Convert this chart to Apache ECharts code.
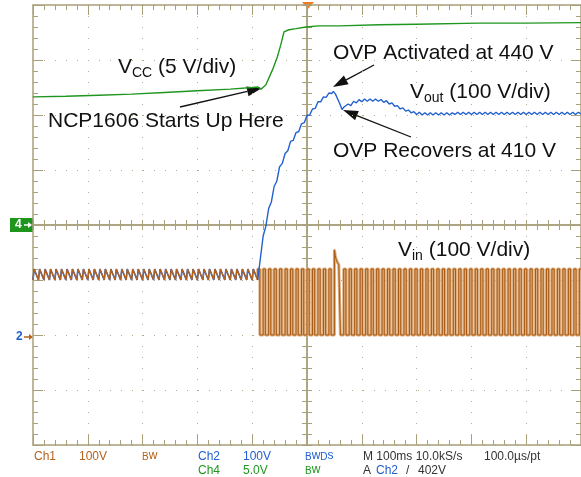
<!DOCTYPE html>
<html>
<head>
<meta charset="utf-8">
<script src="https://cdn.jsdelivr.net/npm/echarts@6.0.0/dist/echarts.min.js"></script>
<style>
  html, body { margin: 0; padding: 0; background: #fff; }
  #chart { width: 581px; height: 477px; }
</style>
</head>
<body>
<div id="chart"></div>
<script>
// x: time in ms (100 ms/div, trigger at centre), y: screen divisions from centre
const timeRange = [-500, 500];
const divRange = [-4, 4];

// Ch1 Vin before start-up (small sawtooth)
const vinBefore = [
  [-500,-1],[-498,-0.8],[-490,-1],[-488,-0.8],[-480,-1],[-478,-0.8],[-470,-1],[-468,-0.8],
  [-460,-1],[-458,-0.8],[-450,-1],[-448,-0.8],[-440,-1],[-438,-0.8],[-430,-1],[-428,-0.8],
  [-420,-1],[-418,-0.8],[-410,-1],[-408,-0.8],[-400,-1],[-398,-0.8],[-390,-1],[-388,-0.8],
  [-380,-1],[-378,-0.8],[-370,-1],[-368,-0.8],[-360,-1],[-358,-0.8],[-350,-1],[-348,-0.8],
  [-340,-1],[-338,-0.8],[-330,-1],[-328,-0.8],[-320,-1],[-318,-0.8],[-310,-1],[-308,-0.8],
  [-300,-1],[-298,-0.8],[-290,-1],[-288,-0.8],[-280,-1],[-278,-0.8],[-270,-1],[-268,-0.8],
  [-260,-1],[-258,-0.8],[-250,-1],[-248,-0.8],[-240,-1],[-238,-0.8],[-230,-1],[-228,-0.8],
  [-220,-1],[-218,-0.8],[-210,-1],[-208,-0.8],[-200,-1],[-198,-0.8],[-190,-1],[-188,-0.8],
  [-180,-1],[-178,-0.8],[-170,-1],[-168,-0.8],[-160,-1],[-158,-0.8],[-150,-1],[-148,-0.8],
  [-140,-1],[-138,-0.8],[-130,-1],[-128,-0.8],[-120,-1],[-118,-0.8],[-110,-1],[-108,-0.8],
  [-100,-1],[-98,-0.8],[-90,-1]
];

// Ch1 Vin after start-up (stepped, full swing)
const vinAfter = [
  [-90,-1],[-90,-0.8],[-86,-2],[-80,-0.8],[-76,-2],[-70,-0.8],[-66,-2],[-60,-0.8],
  [-56,-2],[-50,-0.8],[-46,-2],[-40,-0.8],[-36,-2],[-30,-0.8],[-26,-2],[-20,-0.8],
  [-16,-2],[-10,-0.8],[-6,-2],[0,-0.8],[4,-2],[10,-0.8],[14,-2],[20,-0.8],
  [24,-2],[30,-0.8],[34,-2],[40,-0.8],[44,-2],[50,-0.45],[51.5,-0.55],[53,-0.62],
  [55.5,-0.68],[58,-0.72],[61,-2],[67,-0.8],[71,-2],[77,-0.8],[81,-2],[87,-0.8],
  [91,-2],[97,-0.8],[101,-2],[107,-0.8],[111,-2],[117,-0.8],[121,-2],[127,-0.8],
  [131,-2],[137,-0.8],[141,-2],[147,-0.8],[151,-2],[157,-0.8],[161,-2],[167,-0.8],
  [171,-2],[177,-0.8],[181,-2],[187,-0.8],[191,-2],[197,-0.8],[201,-2],[207,-0.8],
  [211,-2],[217,-0.8],[221,-2],[227,-0.8],[231,-2],[237,-0.8],[241,-2],[247,-0.8],
  [251,-2],[257,-0.8],[261,-2],[267,-0.8],[271,-2],[277,-0.8],[281,-2],[287,-0.8],
  [291,-2],[297,-0.8],[301,-2],[307,-0.8],[311,-2],[317,-0.8],[321,-2],[327,-0.8],
  [331,-2],[337,-0.8],[341,-2],[347,-0.8],[351,-2],[357,-0.8],[361,-2],[367,-0.8],
  [371,-2],[377,-0.8],[381,-2],[387,-0.8],[391,-2],[397,-0.8],[401,-2],[407,-0.8],
  [411,-2],[417,-0.8],[421,-2],[427,-0.8],[431,-2],[437,-0.8],[441,-2],[447,-0.8],
  [451,-2],[457,-0.8],[461,-2],[467,-0.8],[471,-2],[477,-0.8],[481,-2],[487,-0.8],
  [491,-2],[497,-0.8],[500,-0.8]
];

// Ch2 Vout after start-up (with ripple)
const voutAfter = [
  [-90,-1],[-85,-0.6],[-80,-0.2],[-75,-0.02],[-70,0.3],[-65,0.42],[-60,0.7],[-55,0.8],
  [-50,1.06],[-45,1.12],[-40,1.3],[-35,1.35],[-30,1.52],[-25,1.54],[-20,1.68],[-15,1.7],
  [-10,1.84],[-5,1.86],[0,1.99],[5,2.0],[10,2.11],[15,2.12],[20,2.24],[25,2.24],
  [30,2.33],[35,2.32],[40,2.4],[45,2.39],[48,2.43],[52,2.38],[56,2.29],[60,2.2],
  [64,2.1],[67,2.14],[70,2.12],[75,2.2],[80,2.17],[85,2.25],[90,2.22],[95,2.28],
  [100,2.24],[105,2.29],[110,2.25],[115,2.29],[120,2.25],[125,2.29],[130,2.25],[135,2.28],
  [140,2.23],[145,2.26],[150,2.2],[155,2.22],[160,2.16],[165,2.17],[170,2.11],[175,2.13],
  [180,2.07],[185,2.09],[190,2.04],[195,2.06],[200,2.01],[205,2.05],[210,2.0],[215,2.04],
  [220,2.0],[225,2.04],[230,2.0],[235,2.04],[240,2.0],[245,2.04],[250,2.0],[255,2.04],
  [260,2.0],[265,2.04],[270,2.01],[275,2.05],[280,2.01],[285,2.05],[290,2.01],[295,2.05],
  [300,2.01],[305,2.05],[310,2.01],[315,2.05],[320,2.01],[325,2.05],[330,2.01],[335,2.05],
  [340,2.01],[345,2.05],[350,2.01],[355,2.05],[360,2.01],[365,2.05],[370,2.01],[375,2.05],
  [380,2.01],[385,2.05],[390,2.01],[395,2.05],[400,2.01],[405,2.05],[410,2.01],[415,2.05],
  [420,2.01],[425,2.05],[430,2.01],[435,2.05],[440,2.01],[445,2.05],[450,2.01],[455,2.05],
  [460,2.01],[465,2.05],[470,2.01],[475,2.05],[480,2.01],[485,2.05],[490,2.01],[495,2.05],
  [500,2.02]
];

// Ch4 Vcc
const vcc = [
  [-500,2.33],[-440,2.34],[-380,2.36],[-320,2.38],[-260,2.41],[-200,2.44],[-140,2.47],
  [-100,2.5],[-90,2.51],[-84,2.47],[-75,2.55],[-63,2.82],[-54,3.06],[-48,3.27],[-42,3.51],
  [-33,3.55],[-20,3.57],[-2,3.6],[22,3.62],[60,3.62],[131,3.64],[200,3.65],[313,3.67],
  [400,3.67],[500,3.68]
];

const notes = [
  { text: '{m|V}{s|CC}{m| (5 V/div)}', x: 118, y: 67 },
  { text: '{m|NCP1606 Starts Up Here}', x: 48, y: 121 },
  { text: '{m|OVP Activated at 440 V}', x: 333, y: 53 },
  { text: '{m|V}{s|out}{m| (100 V/div)}', x: 410, y: 92 },
  { text: '{m|OVP Recovers at 410 V}', x: 333, y: 151 },
  { text: '{m|V}{s|in}{m| (100 V/div)}', x: 398, y: 250 }
];
const arrows = [[180, 107, 262, 88], [374, 65, 333, 87], [411, 137, 343, 110]];

const C1 = '#b5621c', C2 = '#2160cf', C4 = '#1f961f', DK = '#333';
const statusRow1 = [
  ['Ch1', 34, C1], ['100V', 79, C1], ['{u|B}{d|w}', 142, C1], ['Ch2', 198, C2], ['100V', 243, C2],
  ['{u|B}{d|w}{u|D}{d|s}', 305, C2], ['M 100ms 10.0kS/s', 363, DK], ['100.0µs/pt', 484, DK]
];
const statusRow2 = [
  ['Ch4', 198, C4], ['5.0V', 243, C4], ['{u|B}{d|w}', 305, C4], ['A', 363, DK], ['Ch2', 376, C2],
  ['/', 406, DK], ['402V', 418, DK]
];

const grat = '#a89f7b';
const FONT = '"Liberation Sans", Arial, sans-serif';

function xAxis(extra) {
  return Object.assign({
    type: 'value', min: timeRange[0], max: timeRange[1], interval: 100,
    axisLabel: { show: false }, splitLine: { show: false },
    axisTick: { inside: true, length: 10, lineStyle: { color: grat } },
    minorTick: { show: true, splitNumber: 5, length: 5, lineStyle: { color: grat } }
  }, extra);
}
function yAxis(extra) {
  return Object.assign({
    type: 'value', min: divRange[0], max: divRange[1], interval: 1,
    axisLabel: { show: false }, splitLine: { show: false },
    axisTick: { inside: true, length: 10, lineStyle: { color: grat } },
    minorTick: { show: true, splitNumber: 5, length: 5, lineStyle: { color: grat } }
  }, extra);
}
const border = { onZero: false, lineStyle: { color: grat, width: 1.5 } };
const dots = { show: true, lineStyle: { color: '#b3ab8c', width: 1, type: [1, 10] } };
const centreLine = { onZero: true, onZeroAxisIndex: 0, lineStyle: { color: grat, width: 1.5 } };
const centreTick = (inside) => ({ inside: inside, length: 5, lineStyle: { color: grat } });
const centreMinor = { show: true, splitNumber: 5, length: 5, lineStyle: { color: grat } };

function arrowShapes(x1, y1, x2, y2) {
  const a = Math.atan2(y2 - y1, x2 - x1), L = 15, W = 5;
  const bx = x2 - L * Math.cos(a), by = y2 - L * Math.sin(a);
  return [
    { type: 'line', shape: { x1: x1, y1: y1, x2: bx, y2: by }, style: { stroke: '#111', lineWidth: 1.3 } },
    { type: 'polygon', shape: { points: [[x2, y2], [bx + W * Math.sin(a), by - W * Math.cos(a)], [bx - W * Math.sin(a), by + W * Math.cos(a)]] }, style: { fill: '#111' } }
  ];
}

const graphic = [];
notes.forEach(n => graphic.push({
  type: 'text', x: n.x, y: n.y, z: 10,
  style: {
    text: n.text, align: 'left', verticalAlign: 'middle', fill: '#111',
    rich: {
      m: { fontFamily: FONT, fontSize: 21, lineHeight: 26, fill: '#111' },
      s: { fontFamily: FONT, fontSize: 14, lineHeight: 16, verticalAlign: 'bottom', fill: '#111' }
    }
  }
}));
arrows.forEach(a => graphic.push(...arrowShapes(a[0], a[1], a[2], a[3])));
function statusText(row, y) {
  row.forEach(s => graphic.push({
    type: 'text', x: s[1], y: y,
    style: {
      text: s[0].indexOf('{') === 0 ? s[0] : '{t|' + s[0] + '}', align: 'left', verticalAlign: 'middle',
      rich: {
        t: { fontFamily: FONT, fontSize: 12, lineHeight: 14, fill: s[2] },
        u: { fontFamily: FONT, fontSize: 10, lineHeight: 10, verticalAlign: 'top', fill: s[2] },
        d: { fontFamily: FONT, fontSize: 12, lineHeight: 10, verticalAlign: 'bottom', fill: s[2] }
      }
    }
  }));
}
statusText(statusRow1, 457);
statusText(statusRow2, 471);
// channel / trigger markers
graphic.push(
  { type: 'rect', shape: { x: 10, y: 218, width: 23, height: 14 }, style: { fill: '#1e961e' } },
  { type: 'text', x: 15, y: 225, style: { text: '4', font: 'bold 12px ' + FONT, fill: '#fff', verticalAlign: 'middle' } },
  { type: 'line', shape: { x1: 24, y1: 225, x2: 29, y2: 225 }, style: { stroke: '#fff', lineWidth: 1.5 } },
  { type: 'polygon', shape: { points: [[28, 222], [32, 225], [28, 228]] }, style: { fill: '#fff' } },
  { type: 'text', x: 16, y: 337, style: { text: '2', font: 'bold 12px ' + FONT, fill: C2, verticalAlign: 'middle' } },
  { type: 'line', shape: { x1: 24, y1: 337, x2: 30, y2: 337 }, style: { stroke: C1, lineWidth: 1.5 } },
  { type: 'polygon', shape: { points: [[29, 334], [33, 337], [29, 340]] }, style: { fill: C1 } },
  { type: 'polygon', shape: { points: [[302, 2], [314, 2], [308, 9]] }, style: { fill: '#f07a22' } }
);

const chart = echarts.init(document.getElementById('chart'));
chart.setOption({
  animation: false,
  backgroundColor: '#fff',
  grid: { left: 33, top: 5, width: 550, height: 440 },
  xAxis: [
    xAxis({ position: 'bottom', axisLine: border, splitLine: dots }),
    xAxis({ position: 'top', axisLine: border }),
    xAxis({ axisLine: centreLine, axisTick: centreTick(true), minorTick: centreMinor }),
    xAxis({ axisLine: centreLine, axisTick: centreTick(false), minorTick: centreMinor })
  ],
  yAxis: [
    yAxis({ position: 'left', axisLine: border, splitLine: dots }),
    yAxis({ position: 'right', axisLine: border }),
    yAxis({ axisLine: centreLine, axisTick: centreTick(true), minorTick: centreMinor }),
    yAxis({ axisLine: centreLine, axisTick: centreTick(false), minorTick: centreMinor })
  ],
  graphic: graphic,
  series: [
    { name: 'Vout', type: 'line', data: vinBefore, showSymbol: false, lineStyle: { color: C2, width: 1.6 }, z: 3 },
    { name: 'Vin', type: 'line', data: vinBefore, showSymbol: false, lineStyle: { color: C1, width: 1.3 }, z: 4 },
    { name: 'Vin', type: 'line', data: vinAfter, step: 'end', showSymbol: false, lineStyle: { color: '#dcae80', width: 3 }, z: 3 },
    { name: 'Vin', type: 'line', data: vinAfter, step: 'end', showSymbol: false, lineStyle: { color: '#a9580f', width: 1 }, z: 4 },
    { name: 'Vout', type: 'line', data: voutAfter, showSymbol: false, lineStyle: { color: C2, width: 1.4 }, z: 5 },
    { name: 'Vcc', type: 'line', data: vcc, showSymbol: false, lineStyle: { color: C4, width: 1.4 }, z: 5 }
  ]
});
</script>
</body>
</html>
